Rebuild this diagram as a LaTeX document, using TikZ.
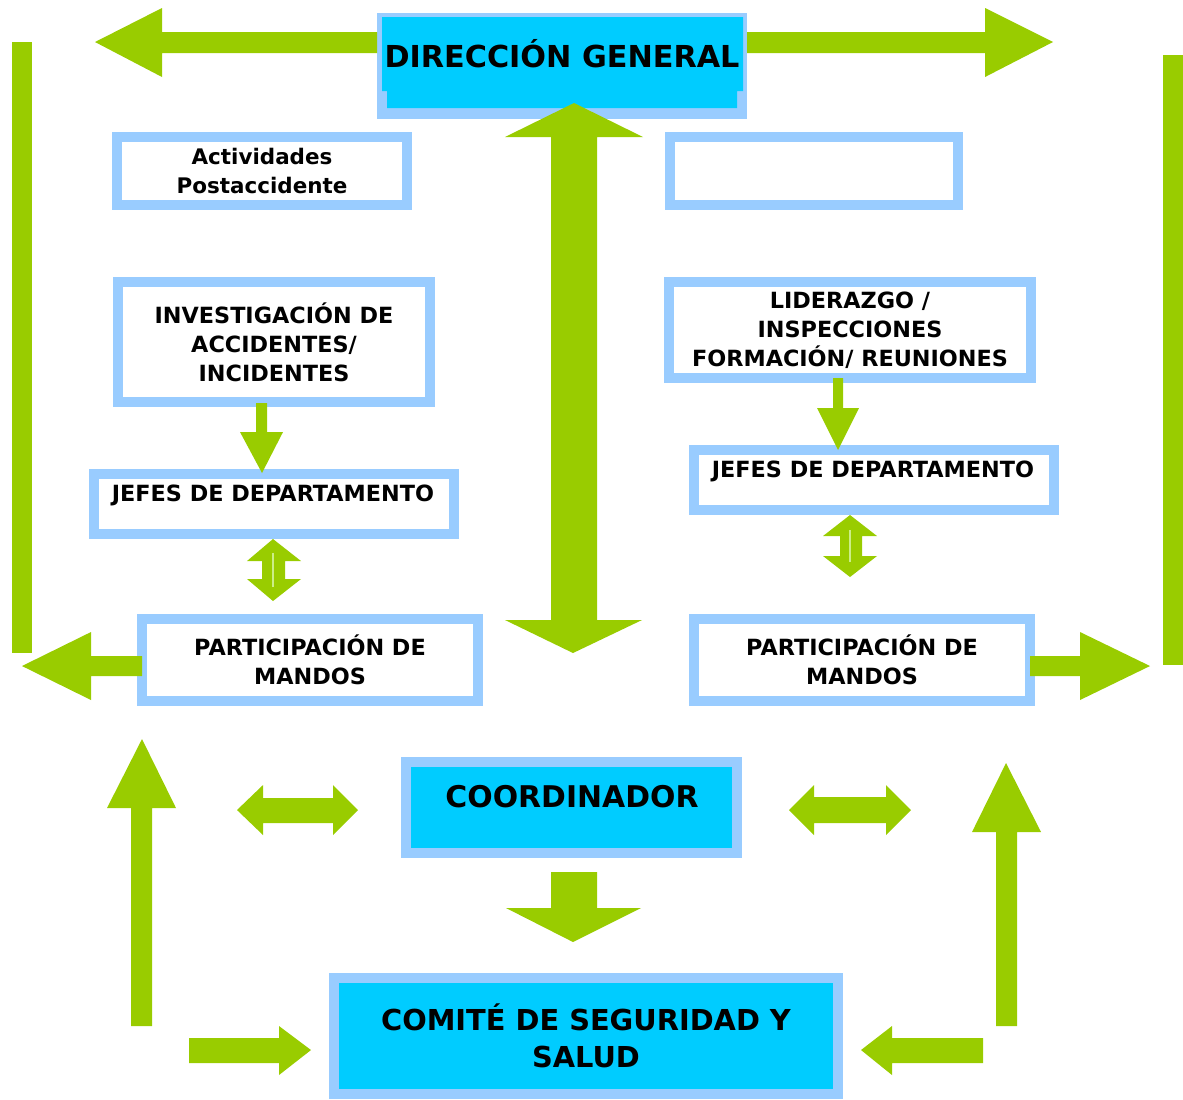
\documentclass[tikz,border=0pt]{standalone}
\usepackage{fontspec}
\setmainfont{DejaVu Sans}
\definecolor{arrowgreen}{HTML}{99CC00}
\definecolor{boxblue}{HTML}{99CCFF}
\definecolor{boxcyan}{HTML}{00CCFF}
\definecolor{paleline}{HTML}{CCEE88}
\newcommand{\smalltxt}{\bfseries\fontsize{6.35}{8.25}\selectfont}
\newcommand{\bigtxt}{\bfseries\fontsize{8.6}{10.5}\selectfont}
\begin{document}
\begin{tikzpicture}[x=0.01cm, y=-0.01cm,
    box/.style={draw=boxblue, line width=0.1cm, fill=white, inner sep=0pt, align=center, font=\smalltxt},
    bluebox/.style={box, fill=boxcyan, font=\bigtxt},
    txt/.style={inner sep=0pt, align=center, font=\smalltxt},
    arrow/.style={fill=arrowgreen}]

    \useasboundingbox (0,0) rectangle (1183,1099);

    %% Top
    % Direccion general
    \node[fill=boxblue, inner sep=0pt, minimum width=3.70cm, minimum height=1.06cm] (dg) at (562,66) {};
    \fill[boxcyan] (382,17) -- (743,17) -- (743,91) -- (737,91) -- (737,108) -- (387,108) -- (387,91) -- (382,91) -- cycle;
    \node[txt, font=\bigtxt] (dgt) at (562,54) {DIRECCIÓN GENERAL};

    % Arrows out of the top box
    \fill[arrow] (377,32) -- (162,32) -- (162,8) -- (95,42) -- (162,77) -- (162,53) -- (377,53) -- cycle;
    \fill[arrow] (747,32) -- (985,32) -- (985,8) -- (1053,42) -- (985,77) -- (985,53) -- (747,53) -- cycle;

    % Side bars
    \fill[arrow] (12,42) rectangle (32,653);
    \fill[arrow] (1163,55) rectangle (1183,665);

    %% Left column
    \node[box, font=\bfseries\fontsize{6.1}{8.25}\selectfont, minimum width=2.89cm, minimum height=0.67cm] (post) at (262,171) {Actividades\\Postaccidente};
    \node[box, minimum width=3.12cm, minimum height=1.19cm] (inv) at (274,342) {INVESTIGACIÓN DE\\ACCIDENTES/\\INCIDENTES};
    \node[box, minimum width=3.60cm, minimum height=0.60cm] (jefl) at (274,504) {};
    \node[txt] (jeflt) at (273,495) {JEFES DE DEPARTAMENTO};
    \node[box, minimum width=3.36cm, minimum height=0.82cm] (manl) at (310,660) {PARTICIPACIÓN DE\\MANDOS};

    % Down arrow
    \fill[arrow] (256,403) -- (267,403) -- (267,432) -- (283,432) -- (262,473) -- (240,432) -- (256,432) -- cycle;

    % Up and down arrow
    \fill[arrow] (273,539) -- (301,561) -- (285,561) -- (285,579) -- (301,579) -- (273,601) -- (247,579) -- (262,579) -- (262,561) -- (247,561) -- cycle;
    \draw[paleline, line width=0.02cm] (273,553) -- (273,587);

    % Arrow to the left
    \fill[arrow] (142,656) -- (91,656) -- (91,632) -- (22,666) -- (91,700) -- (91,676) -- (142,676) -- cycle;

    %% Right column
    \node[box, minimum width=2.88cm, minimum height=0.67cm] (empty) at (814,171) {};
    \node[box, minimum width=3.61cm, minimum height=0.96cm] (lid) at (850,330) {LIDERAZGO /\\INSPECCIONES\\FORMACIÓN/ REUNIONES};
    \node[box, minimum width=3.60cm, minimum height=0.60cm] (jefr) at (874,480) {};
    \node[txt] (jefrt) at (873,471) {JEFES DE DEPARTAMENTO};
    \node[box, minimum width=3.36cm, minimum height=0.82cm] (manr) at (862,660) {PARTICIPACIÓN DE\\MANDOS};

    % Down arrow
    \fill[arrow] (833,378) -- (843,378) -- (843,408) -- (859,408) -- (838,450) -- (817,408) -- (833,408) -- cycle;

    % Up and down arrow
    \fill[arrow] (850,515) -- (877,536) -- (862,536) -- (862,556) -- (877,556) -- (850,577) -- (823,556) -- (840,556) -- (840,536) -- (823,536) -- cycle;
    \draw[paleline, line width=0.02cm] (850,530) -- (850,562);

    % Arrow to the right
    \fill[arrow] (1030,656) -- (1080,656) -- (1080,632) -- (1150,666) -- (1080,700) -- (1080,676) -- (1030,676) -- cycle;

    %% Centre
    % Big up and down arrow
    \fill[arrow] (574,103) -- (643,137) -- (597,137) -- (597,620) -- (642,620) -- (573,653) -- (505,620) -- (551,620) -- (551,137) -- (505,137) -- cycle;

    % Coordinador
    \node[bluebox, minimum width=3.31cm, minimum height=0.91cm] (coord) at (571.5,807.5) {};
    \node[txt, font=\bfseries\fontsize{8.5}{10.5}\selectfont] (coordt) at (572,797) {COORDINADOR};

    % Left and right arrows
    \fill[arrow] (237,810) -- (263,785) -- (263,798) -- (333,798) -- (333,785) -- (358,810) -- (333,835) -- (333,823) -- (263,823) -- (263,835) -- cycle;
    \fill[arrow] (789,810) -- (814,785) -- (814,797) -- (886,797) -- (886,785) -- (911,810) -- (886,835) -- (886,823) -- (814,823) -- (814,835) -- cycle;

    % Down to the committee
    \fill[arrow] (551,872) -- (597,872) -- (597,908) -- (641,908) -- (573,942) -- (506,908) -- (551,908) -- cycle;

    % Comite
    \node[bluebox, font=\bfseries\fontsize{8.2}{10.5}\selectfont, minimum width=5.04cm, minimum height=1.16cm] (com) at (586,1036) {COMITÉ DE SEGURIDAD Y\\SALUD};

    %% Bottom arrows
    % Up arrows
    \fill[arrow] (131,1026) -- (131,808) -- (107,808) -- (142,739) -- (176,808) -- (152,808) -- (152,1026) -- cycle;
    \fill[arrow] (996,1026) -- (996,832) -- (972,832) -- (1006,763) -- (1041,832) -- (1017,832) -- (1017,1026) -- cycle;

    % Into the committee
    \fill[arrow] (189,1038) -- (279,1038) -- (279,1026) -- (311,1050) -- (279,1075) -- (279,1063) -- (189,1063) -- cycle;
    \fill[arrow] (983,1038) -- (892,1038) -- (892,1026) -- (861,1050) -- (892,1075) -- (892,1063) -- (983,1063) -- cycle;

\end{tikzpicture}
\end{document}
